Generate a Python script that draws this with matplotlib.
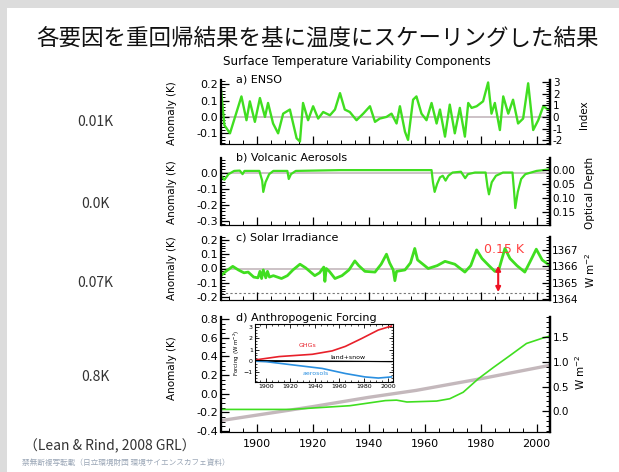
import numpy as np
import matplotlib
matplotlib.use("Agg")
import matplotlib.pyplot as plt
from matplotlib.ticker import MultipleLocator, FormatStrFormatter
from matplotlib.patches import Rectangle

# ---- data ----
enso_years = [1887.3, 1888.5, 1890.5, 1894.6, 1896.4, 1897.6, 1899.4, 1901.2, 1903.0, 1904.1,
              1905.9, 1907.7, 1909.5, 1911.9, 1914.3, 1915.5, 1916.6, 1918.4, 1920.2, 1922.0,
              1923.8, 1926.2, 1928.0, 1929.8, 1931.5, 1933.3, 1935.7, 1938.1, 1940.5, 1942.3,
              1944.0, 1946.4, 1948.2, 1950.0, 1951.2, 1953.0, 1954.1, 1955.9, 1957.1, 1958.9,
              1960.7, 1962.5, 1964.3, 1965.5, 1967.3, 1969.0, 1970.8, 1972.6, 1974.4, 1975.6,
              1976.8, 1978.6, 1980.9, 1982.7, 1983.9, 1985.1, 1986.9, 1988.1, 1989.9, 1991.6,
              1993.4, 1995.2, 1997.0, 1998.8, 2000.6, 2002.4, 2004.1]
enso_vals = [0.165, -0.05, -0.10, 0.125, -0.02, 0.095, -0.03, 0.115, 0.0, 0.085,
             -0.04, -0.10, 0.02, 0.045, -0.13, -0.15, 0.085, -0.02, 0.065, -0.01,
             0.03, 0.01, 0.045, 0.145, 0.045, 0.03, -0.02, 0.02, 0.065, -0.03,
             -0.01, 0.0, 0.02, -0.04, 0.065, -0.09, -0.14, 0.105, 0.125, 0.02,
             -0.02, 0.085, -0.04, 0.045, -0.12, 0.075, -0.10, 0.055, -0.12, 0.085,
             0.055, 0.065, 0.095, 0.21, 0.02, 0.085, -0.08, 0.125, 0.02, 0.105,
             -0.04, -0.01, 0.205, -0.08, -0.02, 0.065, 0.045]

volc_years = [1887.3, 1888.5, 1890, 1892, 1894, 1895, 1895.7, 1901, 1902, 1902.4, 1903.2,
              1904.5, 1906, 1911, 1911.5, 1912.3, 1914, 1930, 1950, 1962.5, 1963.0, 1963.6,
              1964.5, 1965.5, 1966.5, 1967.5, 1968.5, 1970, 1973, 1974.5, 1975.5, 1978,
              1981.8, 1982.5, 1983.0, 1984, 1985.5, 1988, 1991.4, 1991.9, 1992.4, 1993.3,
              1994.5, 1996, 2000, 2004.8]
volc_vals = [-0.02, -0.045, -0.01, 0.01, 0.012, -0.01, 0.01, 0.01, -0.05, -0.12, -0.06,
             -0.01, 0.01, 0.01, -0.04, -0.01, 0.01, 0.015, 0.015, 0.015, -0.06, -0.12,
             -0.07, -0.03, -0.02, -0.05, -0.02, 0.0, 0.005, -0.035, -0.01, 0.0,
             0.0, -0.09, -0.135, -0.06, -0.02, 0.0, 0.0, -0.10, -0.22, -0.12,
             -0.04, -0.01, 0.01, 0.02]

solar_years = [1887.3, 1889.0, 1891.5, 1893.5, 1895.5, 1897.0, 1899.0, 1900.5, 1901.2, 1901.8,
               1902.4, 1903.3, 1903.9, 1904.6, 1906.0, 1908.9, 1911.0, 1913.0, 1915.5, 1917.5,
               1920.8, 1922.5, 1924.0, 1924.4, 1924.9, 1926.0, 1928.0, 1930.5, 1933.0, 1935.1,
               1936.5, 1938.7, 1942.3, 1944.5, 1946.4, 1947.5, 1948.8, 1949.4, 1950.0, 1953.0,
               1955.0, 1956.5, 1957.5, 1961.3, 1964.5, 1967.3, 1970.8, 1974.4, 1976.5, 1978.6,
               1980.5, 1983.0, 1985.1, 1986.5, 1988.7, 1990.5, 1993.0, 1995.8, 1998.0, 1999.9,
               2002.0, 2004.8]
solar_vals = [-0.05, -0.02, 0.015, -0.01, -0.03, -0.025, -0.06, -0.065, -0.02, -0.07,
              -0.01, -0.065, -0.02, -0.06, -0.05, -0.07, -0.05, -0.01, 0.03, 0.005,
              -0.05, -0.03, 0.01, -0.09, 0.0, -0.02, -0.07, -0.05, -0.01, 0.053,
              0.02, -0.02, -0.025, 0.03, 0.10, 0.04, -0.01, -0.085, -0.02, -0.01,
              0.04, 0.14, 0.06, 0.0, 0.02, 0.05, 0.03, -0.025, 0.02, 0.13,
              0.07, 0.02, -0.02, -0.01, 0.14, 0.07, 0.02, -0.025, 0.06, 0.135,
              0.06, 0.02]

anth_years = [1887.3, 1900, 1912, 1920, 1933.3, 1946, 1950, 1953.7, 1964.3, 1969, 1973.8,
              1979.2, 1984.5, 1990.5, 1996.4, 2002.4, 2004.8]
anth_vals = [-0.17, -0.17, -0.17, -0.155, -0.13, -0.075, -0.07, -0.09, -0.08, -0.055, 0.015,
             0.16, 0.28, 0.41, 0.54, 0.60, 0.62]

obs_years = [1887.3, 1920, 1940, 1957, 1980, 2004.8]
obs_vals = [-0.29, -0.14, -0.04, 0.035, 0.16, 0.305]

ins_years = [1891, 1910.8, 1937.9, 1954.1, 1965, 1978.4, 1992, 2002.7]
ghg = [0.1, 0.4, 0.6, 0.9, 1.3, 2.0, 2.75, 3.1]
aer_years = [1891, 1900, 1918.9, 1946, 1965, 1981, 1992, 2002.7]
aer = [0.0, -0.05, -0.3, -0.65, -1.1, -1.4, -1.5, -1.4]
land_years = [1891, 1950, 2002.7]
land = [0.05, 0.0, -0.05]

side_labels = ["0.01K", "0.0K", "0.07K", "0.8K"]

W, H = 619, 472
GREEN = "#40de20"
GRAY = "#c4b8bc"
XL = (1887.3, 2004.8)


def rect(l, t, r, b):
    return [l / W, 1 - b / H, (r - l) / W, (b - t) / H]


def style(ax, ylim, major, minor, fmt, ticks_bottom=False):
    ax.set_xlim(*XL)
    ax.set_ylim(*ylim)
    ax.spines['top'].set_visible(False)
    ax.spines['left'].set_linewidth(1.6)
    ax.spines['bottom'].set_linewidth(0.8)
    ax.spines['right'].set_linewidth(1.6)
    ax.yaxis.set_major_locator(MultipleLocator(major))
    ax.yaxis.set_minor_locator(MultipleLocator(minor))
    ax.yaxis.set_major_formatter(FormatStrFormatter(fmt))
    ax.xaxis.set_major_locator(MultipleLocator(20))
    ax.xaxis.set_minor_locator(MultipleLocator(5))
    ax.tick_params(which='both', direction='in', labelsize=8, pad=2)
    ax.tick_params(which='major', length=6, width=0.9)
    ax.tick_params(which='minor', length=3, width=0.7)
    ax.tick_params(axis='x', labelbottom=ticks_bottom)
    ax.patch.set_alpha(0)


def twin(ax, ylim, major, minor, fmt):
    t = ax.twinx()
    t.set_ylim(*ylim)
    t.spines['top'].set_visible(False)
    t.spines['right'].set_linewidth(1.6)
    t.yaxis.set_major_locator(MultipleLocator(major))
    t.yaxis.set_minor_locator(MultipleLocator(minor))
    t.yaxis.set_major_formatter(FormatStrFormatter(fmt))
    t.tick_params(which='both', direction='in', labelsize=7.5, pad=2)
    t.tick_params(which='major', length=6, width=0.9)
    t.tick_params(which='minor', length=3, width=0.7)
    return t


fig = plt.figure(figsize=(W / 100, H / 100), dpi=100)
fig.patch.set_facecolor("#dcdcdc")
fig.add_artist(Rectangle((7 / W, 0), 1, 1 - 8 / H, transform=fig.transFigure,
                         facecolor="white", edgecolor="none", zorder=0))

jp = ['Noto Sans CJK JP', 'DejaVu Sans']
fig.text(318 / W, 1 - 38 / H, "各要因を重回帰結果を基に温度にスケーリングした結果",
         family=jp, fontsize=16.2, ha='center', va='center', color='#111111')
fig.text(357 / W, 1 - 62 / H, "Surface Temperature Variability Components",
         fontsize=8.6, ha='center', va='center')

# a) ENSO
ax1 = fig.add_axes(rect(221, 80, 550, 144))
style(ax1, (-0.165, 0.225), 0.1, 0.02, '%.1f')
ax1.axhline(0, color=GRAY, lw=1.2, zorder=1)
ax1.plot(enso_years, enso_vals, color=GREEN, lw=1.7, zorder=2)
t1 = twin(ax1, (-2.3, 3.15), 1, 0.2, '%d')

# b) Volcanic
ax2 = fig.add_axes(rect(221, 158, 550, 225))
style(ax2, (-0.325, 0.09), 0.1, 0.02, '%.1f')
ax2.axhline(0, color=GRAY, lw=1.2, zorder=1)
ax2.plot(volc_years, volc_vals, color=GREEN, lw=1.6, zorder=2)
t2 = twin(ax2, (0.196, -0.043), 0.05, 0.01, '%.2f')

# c) Solar
ax3 = fig.add_axes(rect(221, 237, 550, 300))
style(ax3, (-0.22, 0.22), 0.1, 0.02, '%.1f')
ax3.axhline(0, color=GRAY, lw=1.2, zorder=1)
ax3.axhline(-0.17, color='#777777', lw=0.8, ls=(0, (2, 2)), zorder=1)
ax3.plot(solar_years, solar_vals, color=GREEN, lw=2.0, zorder=2)
ax3.annotate("", xy=(1986.3, 0.02), xytext=(1986.3, -0.165),
             arrowprops=dict(arrowstyle='<|-|>', color='#ee1122', lw=1.5,
                             mutation_scale=7, shrinkA=0, shrinkB=0), zorder=3)
ax3.text(1988.3, 0.135, "0.15 K", color='#ff4040', fontsize=9, ha='center', va='center')
t3 = twin(ax3, (1363.95, 1367.8), 1, 0.2, '%d')
t3.tick_params(axis='y', pad=1.5)

# d) Anthropogenic
ax4 = fig.add_axes(rect(221, 317, 550, 432))
style(ax4, (-0.413, 0.825), 0.2, 0.05, '%.1f', ticks_bottom=True)
ax4.plot(obs_years, obs_vals, color=GRAY, lw=2.4, zorder=1)
ax4.plot(anth_years, anth_vals, color=GREEN, lw=1.2, zorder=2)
t4 = twin(ax4, (-0.418, 1.905), 0.5, 0.1, '%.1f')
ax4.tick_params(axis='x', pad=5)

# titles, labels
for txt, y in [("a) ENSO", 80), ("b) Volcanic Aerosols", 158),
               ("c) Solar Irradiance", 237), ("d) Anthropogenic Forcing", 318)]:
    fig.text(236 / W, 1 - y / H, txt, fontsize=8, ha='left', va='center')
for y in [113, 192, 268, 368]:
    fig.text(172 / W, 1 - y / H, "Anomaly (K)", fontsize=7.5, rotation=90,
             ha='center', va='center')
fig.text(584 / W, 1 - 115 / H, "Index", fontsize=7.5, rotation=90, ha='center', va='center')
fig.text(590 / W, 1 - 193 / H, "Optical Depth", fontsize=7.5, rotation=90, ha='center', va='center')
fig.text(590 / W, 1 - 270 / H, "W m$^{-2}$", fontsize=7.5, rotation=90, ha='center', va='center')
fig.text(580 / W, 1 - 372 / H, "W m$^{-2}$", fontsize=7.5, rotation=90, ha='center', va='center')

for lab, y in zip(side_labels, [122, 204, 283, 377]):
    fig.text(95 / W, 1 - y / H, lab, family=jp, fontsize=10, ha='center', va='center',
             color='#333333')

fig.text(24 / W, 1 - 446 / H, "（Lean & Rind, 2008 GRL）", family=jp, fontsize=10,
         ha='left', va='center', color='#333333')
fig.text(22 / W, 1 - 463 / H, "禁無断複写転載（日立環境財団 環境サイエンスカフェ資料）", family=jp,
         fontsize=5.5, ha='left', va='center', color='#9aa6b6')

# inset
axi = fig.add_axes(rect(255, 324, 393, 382))
axi.set_xlim(1891, 2004)
axi.set_ylim(-1.85, 3.28)
axi.axhline(0, color='black', lw=0.8)
axi.plot(ins_years, ghg, color='#e8202a', lw=1.2)
axi.plot(aer_years, aer, color='#2a8fe0', lw=1.2)
axi.plot(land_years, land, color='black', lw=0.8)
axi.text(1934, 1.4, "GHGs", color='#e8202a', fontsize=4.5, ha='center', va='center')
axi.text(1967, 0.35, "land+snow", color='black', fontsize=4.5, ha='center', va='center')
axi.text(1941, -1.1, "aerosols", color='#2a8fe0', fontsize=4.5, ha='center', va='center')
axi.xaxis.set_major_locator(MultipleLocator(20))
axi.xaxis.set_minor_locator(MultipleLocator(5))
axi.yaxis.set_major_locator(MultipleLocator(1))
axi.yaxis.set_minor_locator(MultipleLocator(0.25))
axi.tick_params(which='both', direction='in', labelsize=4.5, pad=1.5, top=True, right=True)
axi.tick_params(which='major', length=3, width=0.6)
axi.tick_params(which='minor', length=1.5, width=0.5)
for s in axi.spines.values():
    s.set_linewidth(0.8)
axi.set_ylabel("Forcing (W m$^{-2}$)", fontsize=4, labelpad=1)

fig.savefig("out.png", dpi=100)
